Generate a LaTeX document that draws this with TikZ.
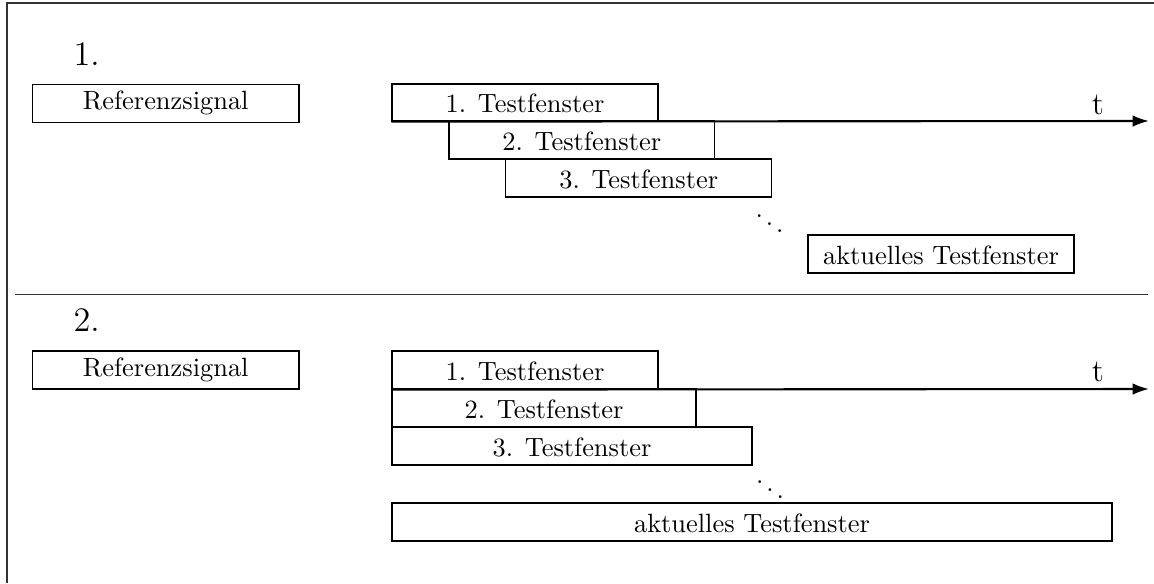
\documentclass[tikz,border=0pt]{standalone}
\usetikzlibrary{arrows.meta}
\begin{document}
\begin{tikzpicture}[x=0.3788pt,y=-0.3788pt,
  box/.style={draw, line width=0.45pt, inner sep=0pt, minimum width=#1*0.3788pt, minimum height=38*0.3788pt},
  tbox/.style={box=#1, text height=7.9pt, text depth=0pt},
  frame/.style={line width=0.6pt, draw=black!80},
  axis/.style={line width=0.8pt, -{Latex[length=6.2pt,width=4.4pt]}},
  num/.style={anchor=base west, font=\fontsize{13}{15}\selectfont, inner sep=0pt},
  tlab/.style={anchor=base, font=\large, inner sep=0pt},
  dotsnode/.style={anchor=base, inner sep=0pt}]
\useasboundingbox (0,0) rectangle (1154,583);
% frame and separator
\draw[frame] (7,583) -- (7,2.7) -- (1154,2.7);
\draw[frame] (15,294.5) -- (1148,294.5);
% ---------- section 1 ----------
\node[num] (n1) at (73,65) {1.};
\node[box=266.5] (ref1) at (165.75,103.2) {Referenzsignal};
\node[tbox=266, minimum height=37*0.3788pt] (ta1) at (525,102.5) {1. Testfenster};
\node[tbox=265.5] (tb1) at (581.75,140) {2. Testfenster};
\node[tbox=266] (tc1) at (638.7,178) {3. Testfenster};
\node[dotsnode] (d1) at (769.5,235.6) {$\ddots$};
\node[tbox=266] (tz1) at (941,254) {aktuelles Testfenster};
\coordinate (e1) at (1149,121);
\draw[axis] (ta1.south west) -- (e1);
\node[tlab] (t1) at (1098,114) {t};
% ---------- section 2 ----------
\node[num] (n2) at (73,331) {2.};
\node[box=266.5] (ref2) at (165.75,370) {Referenzsignal};
\node[tbox=266] (ta2) at (525,370) {1. Testfenster};
\node[tbox=304] (tb2) at (544,408) {2. Testfenster};
\node[tbox=360] (tc2) at (572,446) {3. Testfenster};
\node[dotsnode] (d2) at (770,501.6) {$\ddots$};
\node[tbox=720] (tz2) at (752,522) {aktuelles Testfenster};
\coordinate (e2) at (1149,389);
\draw[axis] (ta2.south west) -- (e2);
\node[tlab] (t2) at (1098,381) {t};
\end{tikzpicture}
\end{document}
